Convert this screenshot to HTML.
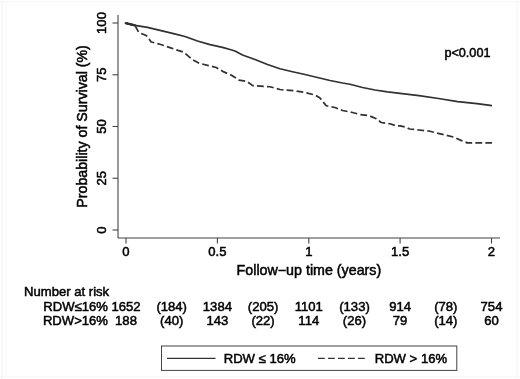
<!DOCTYPE html>
<html><head><meta charset="utf-8">
<style>
html,body{margin:0;padding:0;background:#fff;}
body{width:520px;height:379px;overflow:hidden;position:relative;font-family:"Liberation Sans",sans-serif;}
svg{position:absolute;left:0;top:0;display:block;}
text{font-family:"Liberation Sans",sans-serif;font-size:13.1px;fill:#000;stroke:#000;stroke-width:0.5px;}
</style></head><body>
<svg width="520" height="379" viewBox="0 0 520 379">
<rect x="0" y="0" width="520" height="379" fill="#fff"/>
<!-- faint frame -->
<g stroke="#f7f7f7" stroke-width="1.6" fill="none">
<line x1="2" y1="0" x2="2" y2="379"/>
<line x1="517.3" y1="0" x2="517.3" y2="379"/>
<line x1="0" y1="377" x2="520" y2="377"/>
<line x1="0" y1="1.8" x2="520" y2="1.8"/>
<line x1="6" y1="0" x2="6" y2="376" stroke="#fafafa"/>
<line x1="6" y1="5.5" x2="520" y2="5.5" stroke="#fbfbfb"/>
</g>
<g id="plot" filter="url(#soft)">
<!-- axes -->
<g stroke="#444" stroke-width="1.1" fill="none">
<line x1="118" y1="15" x2="118" y2="238"/>
<line x1="118" y1="238" x2="500" y2="238"/>
<line x1="112.5" y1="23" x2="118" y2="23"/>
<line x1="112.5" y1="74.75" x2="118" y2="74.75"/>
<line x1="112.5" y1="126.5" x2="118" y2="126.5"/>
<line x1="112.5" y1="178.25" x2="118" y2="178.25"/>
<line x1="112.5" y1="230" x2="118" y2="230"/>
<line x1="126" y1="238" x2="126" y2="243.5"/>
<line x1="217.4" y1="238" x2="217.4" y2="243.5"/>
<line x1="308.8" y1="238" x2="308.8" y2="243.5"/>
<line x1="400.1" y1="238" x2="400.1" y2="243.5"/>
<line x1="491.5" y1="238" x2="491.5" y2="243.5"/>
</g>
<!-- curves -->
<polyline fill="none" stroke="#303030" stroke-width="1.75" stroke-linejoin="round" points="125.8,23.2 135,25.3 147.5,27.4 160,30.4 172.5,33.4 185,36.5 197.5,41 210,44.6 222.5,47.3 230,49.5 235,51 242.5,55 255,59.5 267.5,64.5 280,68.75 292.5,71.75 305,74.5 317.5,77.5 330,80.5 342.5,83 350,84.25 362.5,87.5 375,90 387.5,91.8 400,93.3 419,95.6 438.5,98.5 457.7,101.7 477,103.6 492,105.6"/>
<polyline fill="none" stroke="#303030" stroke-width="1.75" stroke-dasharray="6.8,3.2" stroke-linejoin="round" points="125.8,23.2 135,25.5 138.75,32.5 146.25,35.5 151.25,42 160,44.25 170,47.6 178,50.4 183.5,52 189.2,56.9 194,60.5 198.8,63.1 208.5,65.6 216.2,67.5 223.8,71.9 231.5,75.2 239.2,80.2 246.9,81.5 252.7,85.6 270,86.75 280,89.5 295,90.75 305,92.5 315,95 320,98 326.25,105.75 335,107.5 342.5,110.5 352.5,112.5 360,114.5 368.75,115.5 376.25,118.75 381.25,122.5 390,123.75 396.25,125.75 400,125.8 405.8,127.1 409.6,129 419.2,130 428.8,131 436.5,132.9 444.2,134.8 453.8,137.1 461.5,140.6 467.3,142.9 484.6,142.9 492,142.9"/>
<line x1="125.8" y1="23.2" x2="135" y2="25.4" stroke="#303030" stroke-width="2.4" stroke-linecap="round"/>
<!-- y tick labels -->
<g text-anchor="middle">
<text transform="translate(106.4,23) rotate(-90)">100</text>
<text transform="translate(106.4,74.75) rotate(-90)">75</text>
<text transform="translate(106.4,126.5) rotate(-90)">50</text>
<text transform="translate(106.4,178.25) rotate(-90)">25</text>
<text transform="translate(106.4,230) rotate(-90)">0</text>
<text style="font-size:14.3px" transform="translate(86.7,126.4) rotate(-90)" textLength="162.5" lengthAdjust="spacingAndGlyphs">Probability of Survival (%)</text>
</g>
<!-- x tick labels -->
<g text-anchor="middle">
<text x="126" y="255.5">0</text>
<text x="217.4" y="255.5">0.5</text>
<text x="308.8" y="255.5">1</text>
<text x="400.1" y="255.5">1.5</text>
<text x="491.5" y="255.5">2</text>
<text style="font-size:14.3px" x="308.9" y="274.9" textLength="144.6" lengthAdjust="spacingAndGlyphs">Follow−up time (years)</text>
</g>
<text x="444.4" y="56.7" textLength="46.1" lengthAdjust="spacingAndGlyphs">p&lt;0.001</text>
<!-- risk table -->
<text x="24" y="296">Number at risk</text>
<g text-anchor="end">
<text x="108" y="311">RDW≤16%</text>
<text x="108" y="325">RDW&gt;16%</text>
</g>
<g text-anchor="middle">
<text x="126" y="311">1652</text><text x="171.7" y="311">(184)</text><text x="217.4" y="311">1384</text><text x="263.1" y="311">(205)</text><text x="308.8" y="311">1101</text><text x="354.5" y="311">(133)</text><text x="400.1" y="311">914</text><text x="445.8" y="311">(78)</text><text x="491.5" y="311">754</text>
<text x="126" y="325">188</text><text x="171.7" y="325">(40)</text><text x="217.4" y="325">143</text><text x="263.1" y="325">(22)</text><text x="308.8" y="325">114</text><text x="354.5" y="325">(26)</text><text x="400.1" y="325">79</text><text x="445.8" y="325">(14)</text><text x="491.5" y="325">60</text>
</g>
<!-- legend -->
<rect x="161.5" y="346" width="295.3" height="24.4" fill="#fff" stroke="#444" stroke-width="1"/>
<line x1="167" y1="358.3" x2="215.5" y2="358.3" stroke="#333" stroke-width="1.3"/>
<line x1="318" y1="358.3" x2="366.5" y2="358.3" stroke="#333" stroke-width="1.3" stroke-dasharray="6.8,3.2"/>
<text x="223.7" y="362.8">RDW ≤ 16%</text>
<text x="374.7" y="362.8">RDW &gt; 16%</text>
</g>
<defs><filter id="soft" x="-5%" y="-5%" width="110%" height="110%"><feGaussianBlur stdDeviation="0.5"/></filter></defs>
</svg>
</body></html>
